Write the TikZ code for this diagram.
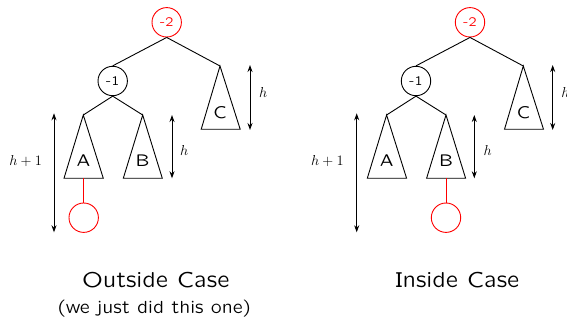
\documentclass[tikz,border=0pt]{standalone}
\usetikzlibrary{arrows.meta}
\font\capfnt=lcmss8 at 21.6pt
\font\subfnt=lcmss8 at 17.6pt
\font\trifnt=lcmss8 at 17pt
\font\balfnt=lcmss8 at 13pt
\tikzset{
  bal/.style={circle, draw, line width=0.9pt, minimum size=29.4pt, inner sep=0pt, font=\balfnt},
  redbal/.style={bal, draw=red, text=red},
  tri/.style={draw, line width=0.9pt, line join=miter},
  edge/.style={draw, line width=0.9pt},
  rededge/.style={draw=red, line width=1pt},
  tlabel/.style={inner sep=0pt, font=\trifnt},
  harrow/.style={line width=0.9pt, {Stealth[length=7pt,width=5pt]}-{Stealth[length=7pt,width=5pt]}},
  hlabel/.style={inner sep=0pt, font=\fontsize{14}{14}\selectfont},
  caption/.style={inner sep=0pt, font=\capfnt},
  subcaption/.style={inner sep=0pt, font=\subfnt}
}
\begin{document}
\begin{tikzpicture}[x=1pt,y=-1pt]
\useasboundingbox (0,0) rectangle (567,320);
% ---------- left tree (outside case)
\begin{scope}
\node[redbal] (Lroot) at (166.7,22.3) {-2};
\node[bal] (Lm) at (112.7,81) {-1};
\coordinate (LAt) at (83.3,115);
\coordinate (LBt) at (142.7,115);
\coordinate (LCt) at (220,66);
\draw[tri] (LAt) -- (64,178.3) -- (103.3,178.3) -- cycle;
\draw[tri] (LBt) -- (123.3,178.3) -- (162.3,178.3) -- cycle;
\draw[tri] (LCt) -- (201.2,129.3) -- (240.2,129.3) -- cycle;
\node[tlabel] (LA) at (83.5,161) {A};
\node[tlabel] (LB) at (142.7,161) {B};
\node[tlabel] (LC) at (220,113) {C};
\coordinate (LAb) at (83.7,178.3);
\node[redbal] (Lnew) at (83.7,217.7) {};
\draw[edge] (Lroot.south) -- (Lm.north);
\draw[edge] (Lroot.south) -- (LCt);
\draw[edge] (Lm.south) -- (LAt);
\draw[edge] (Lm.south) -- (LBt);
\draw[rededge] (LAb) -- (Lnew.north);
\coordinate (Lh1a) at (54,113.3);
\coordinate (Lh1b) at (54,232.3);
\draw[harrow] (Lh1a) -- (Lh1b);
\node[hlabel] (Lh1) at (25.7,160.7) {$h+1$};
\coordinate (Lhba) at (172,115);
\coordinate (Lhbb) at (172,178.3);
\draw[harrow] (Lhba) -- (Lhbb);
\node[hlabel] (Lhb) at (184.3,150.7) {$h$};
\coordinate (Lhca) at (250,65);
\coordinate (Lhcb) at (250,130);
\draw[harrow] (Lhca) -- (Lhcb);
\node[hlabel] (Lhc) at (263.3,92.7) {$h$};
\end{scope}
% ---------- right tree (inside case)
\begin{scope}[shift={(303.3,0)}]
\node[redbal] (Rroot) at (166.7,22.3) {-2};
\node[bal] (Rm) at (112.7,81) {-1};
\coordinate (RAt) at (83.3,115);
\coordinate (RBt) at (142.7,115);
\coordinate (RCt) at (220,66);
\draw[tri] (RAt) -- (64,178.3) -- (103.3,178.3) -- cycle;
\draw[tri] (RBt) -- (123.3,178.3) -- (162.3,178.3) -- cycle;
\draw[tri] (RCt) -- (201.2,129.3) -- (240.2,129.3) -- cycle;
\node[tlabel] (RA) at (83.5,161) {A};
\node[tlabel] (RB) at (142.7,161) {B};
\node[tlabel] (RC) at (220,113) {C};
\coordinate (RBb) at (142.7,178.3);
\node[redbal] (Rnew) at (142.7,217.7) {};
\draw[edge] (Rroot.south) -- (Rm.north);
\draw[edge] (Rroot.south) -- (RCt);
\draw[edge] (Rm.south) -- (RAt);
\draw[edge] (Rm.south) -- (RBt);
\draw[rededge] (RBb) -- (Rnew.north);
\coordinate (Rh1a) at (53.4,113.3);
\coordinate (Rh1b) at (53.4,232.3);
\draw[harrow] (Rh1a) -- (Rh1b);
\node[hlabel] (Rh1) at (24,160.7) {$h+1$};
\coordinate (Rhba) at (171,115);
\coordinate (Rhbb) at (171,178.3);
\draw[harrow] (Rhba) -- (Rhbb);
\node[hlabel] (Rhb) at (184.4,150.7) {$h$};
\coordinate (Rhca) at (249.4,65);
\coordinate (Rhcb) at (249.4,130);
\draw[harrow] (Rhca) -- (Rhcb);
\node[hlabel] (Rhc) at (262,92.7) {$h$};
\end{scope}
% ---------- captions
\node[caption, anchor=base] (cap1) at (155.7,287.3) {Outside Case};
\node[subcaption, anchor=base] (sub1) at (154.3,313.3) {(we just did this one)};
\node[caption, anchor=base] (cap2) at (457.5,287.3) {Inside Case};
\end{tikzpicture}
\end{document}
